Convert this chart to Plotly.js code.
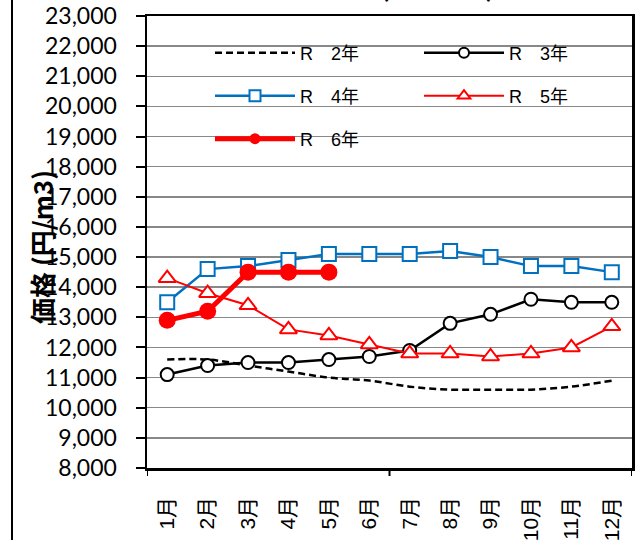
<!DOCTYPE html>
<html>
<head>
<meta charset="utf-8">
<script src="https://cdn.plot.ly/plotly-3.0.1.min.js"></script>
<style>html,body{margin:0;padding:0;background:#fff;}#chart{width:635px;height:540px;}</style>
</head>
<body>
<div id="chart"></div>
<script>
const months = ["1月","2月","3月","4月","5月","6月","7月","8月","9月","10月","11月","12月"];
const seriesNames = ["R　2年","R　3年","R　4年","R　5年","R　6年"];
const r2 = [11600,11600,11400,11200,11000,10900,10700,10600,10600,10600,10700,10900];
const r3 = [11100,11400,11500,11500,11600,11700,11900,12800,13100,13600,13500,13500];
const r4 = [13500,14600,14700,14900,15100,15100,15100,15200,15000,14700,14700,14500];
const r5 = [14300,13800,13400,12600,12400,12100,11800,11800,11700,11800,12000,12700];
const r6 = [12900,13200,14500,14500,14500];
const yTickVals = [8000,9000,10000,11000,12000,13000,14000,15000,16000,17000,18000,19000,20000,21000,22000,23000];
const yTitle = "価格 (円/m3)";
const chartTitle = "スギ中丸太価格 (原木市場) の推移";

const legFont = {family: "Liberation Sans, Arial, Noto Sans CJK JP, sans-serif", size: 18, color: "#000"};
function leg(x, y) {
  return {x: x, y: y, xanchor: "left", yanchor: "middle", bgcolor: "rgba(0,0,0,0)",
          borderwidth: 0, itemwidth: 80, font: legFont, orientation: "v"};
}

const styles = [
  {line: {color: "#000", width: 2.5, dash: "7px,4px", shape: "spline", smoothing: 1}, mode: "lines"},
  {line: {color: "#000", width: 2.5}, mode: "lines+markers",
   marker: {symbol: "circle", size: 13, color: "#fff", line: {color: "#000", width: 2}},
   legMarker: {symbol: "circle", size: 10, color: "#fff", line: {color: "#000", width: 2}}},
  {line: {color: "#0070C0", width: 2.5}, mode: "lines+markers",
   marker: {symbol: "square", size: 14, color: "#fff", line: {color: "#0070C0", width: 2}},
   legMarker: {symbol: "square", size: 11, color: "#fff", line: {color: "#0070C0", width: 2}}},
  {line: {color: "#FF0000", width: 2}, mode: "lines+markers",
   marker: {symbol: "triangle-up", size: 15, color: "#fff", line: {color: "#FF0000", width: 2}},
   legMarker: {symbol: "triangle-up", size: 11, color: "#fff", line: {color: "#FF0000", width: 2}}},
  {line: {color: "#FF0000", width: 5}, mode: "lines+markers",
   marker: {symbol: "circle", size: 17, color: "#FF0000", line: {width: 0}},
   legMarker: {symbol: "circle", size: 11, color: "#FF0000", line: {width: 0}}}
];
const ys = [r2, r3, r4, r5, r6];
const legendIds = ["legend", "legend2", "legend3", "legend4", "legend5"];

const traces = [];
ys.forEach(function (y, i) {
  const s = styles[i];
  const t = {x: months.slice(0, y.length), y: y, name: seriesNames[i], mode: s.mode,
             line: s.line, showlegend: false};
  if (s.marker) t.marker = s.marker;
  traces.push(t);
});
ys.forEach(function (y, i) {
  const s = styles[i];
  const t = {x: [null], y: [null], name: seriesNames[i], mode: s.mode,
             line: s.line, legend: legendIds[i], showlegend: true};
  if (s.legMarker) t.marker = s.legMarker;
  traces.push(t);
});

const L = 147, R = 632, T = 16, B = 468, W = 635, H = 540;
const pw = R - L, ph = B - T;
function px(x) { return (x - L) / pw; }
function py(y) { return (B - y) / ph; }

const layout = {
  width: W, height: H,
  margin: {l: L, r: W - R, t: T, b: H - B, pad: 0},
  paper_bgcolor: "#fff", plot_bgcolor: "#fff",
  showlegend: true,
  legend: leg(px(210), py(53)),
  legend2: leg(px(419), py(53)),
  legend3: leg(px(210), py(96)),
  legend4: leg(px(419), py(96)),
  legend5: leg(px(210), py(139)),
  xaxis: {
    type: "category", categoryorder: "array", categoryarray: months,
    range: [-0.5, 11.5],
    showline: true, linecolor: "#000", linewidth: 2.5, mirror: true,
    showgrid: false, ticks: "", tickangle: -90, ticklabelstandoff: 18,
    tickfont: {family: "Liberation Sans, Arial, Noto Sans CJK JP, sans-serif", size: 21, color: "#000"},
    fixedrange: true, automargin: false
  },
  yaxis: {
    range: [8000, 23000], tickvals: yTickVals, tickformat: ",d",
    showline: true, linecolor: "#000", linewidth: 2.5, mirror: true,
    showgrid: true, gridcolor: "#888", gridwidth: 1.5,
    ticks: "outside", ticklen: 9, tickwidth: 2, tickcolor: "#000",
    ticklabelstandoff: 14,
    tickfont: {family: "Lato, Liberation Sans, sans-serif", size: 23, color: "#000"},
    zeroline: false, fixedrange: true, automargin: false
  },
  shapes: [
    {type: "line", xref: "x", yref: "paper", x0: -0.5, x1: -0.5, y0: 0, y1: -8 / ph, line: {color: "#000", width: 2}},
    {type: "line", xref: "x", yref: "paper", x0: 5.5, x1: 5.5, y0: 0, y1: -8 / ph, line: {color: "#000", width: 2}},
    {type: "line", xref: "x", yref: "paper", x0: 11.5, x1: 11.5, y0: 0, y1: -8 / ph, line: {color: "#000", width: 2}},
    {type: "line", xref: "paper", yref: "paper", x0: px(12), x1: px(12), y0: py(-5), y1: py(545), line: {color: "#000", width: 2}}
  ],
  annotations: [
    {text: "<b>" + yTitle + "</b>", xref: "paper", yref: "paper", x: px(41), y: py(247),
     xanchor: "center", yanchor: "middle", textangle: -90, showarrow: false,
     font: {family: "Noto Sans CJK JP, sans-serif", size: 26, color: "#000"}},
    {text: "<b>" + chartTitle + "</b>", xref: "paper", yref: "paper", x: px(205), y: py(6),
     xanchor: "left", yanchor: "bottom", showarrow: false,
     font: {family: "Noto Sans CJK JP, sans-serif", size: 24, color: "#000"}}
  ]
};

Plotly.newPlot("chart", traces, layout, {displayModeBar: false, staticPlot: true});
</script>
</body>
</html>
